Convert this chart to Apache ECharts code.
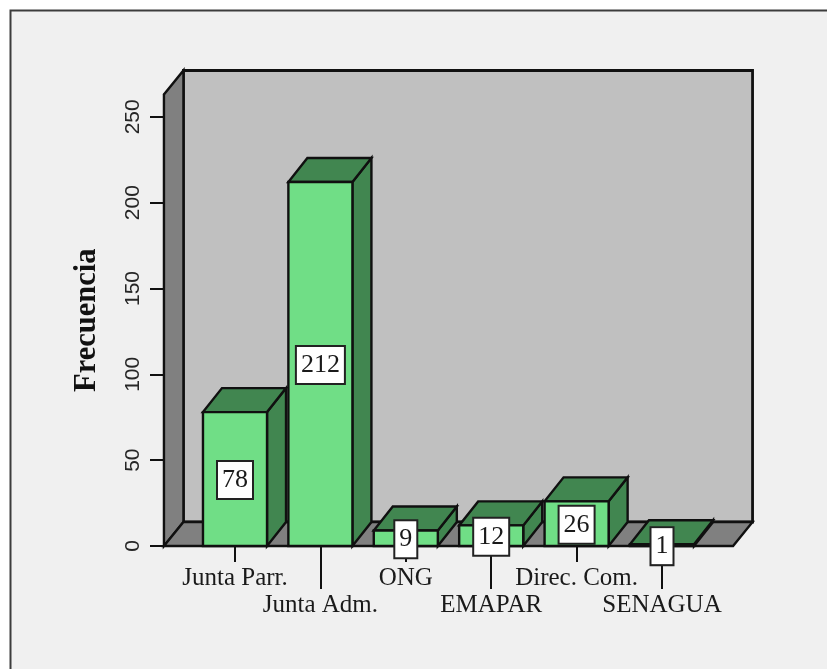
<!DOCTYPE html>
<html>
<head>
<meta charset="utf-8">
<style>html,body{margin:0;padding:0;background:#fff}#c{width:827px;height:669px}</style>
<script src="https://cdn.jsdelivr.net/npm/echarts@6/dist/echarts.min.js"></script>
</head>
<body>
<div id="c"></div>
<script>
// Frequency of each institution, shown as extruded columns inside a box
const categories = ['Junta Parr.', 'Junta Adm.', 'ONG', 'EMAPAR', 'Direc. Com.', 'SENAGUA'];
const frequencies = [78, 212, 9, 12, 26, 1];
const yTicks = [0, 50, 100, 150, 200, 250];
const yMax = 263;

const DEPTH_X = 19, DEPTH_Y = 24;
const INK = '#101010';
const FRONT = '#70DE86', SHADE = '#418650';
const WALL = '#C0C0C0', SIDE = '#808080';

const chart = echarts.init(document.getElementById('c'), null, {renderer: 'canvas'});

function poly(points, fill, width) {
  return {type: 'polygon', shape: {points}, style: {fill, stroke: INK, lineWidth: width, lineJoin: 'miter'}};
}

// Back wall, side wall and floor of the box, extended 71px past the outer column centres
function renderBox(params, api) {
  const step = api.size([1, 0])[0];
  const l = api.coord([0, 0])[0] - step * 0.832;
  const r = api.coord([5, 0])[0] + step * 0.832;
  const b = api.coord([0, 0])[1];
  const t = api.coord([0, yMax])[1];
  const dx = DEPTH_X + 0.5, dy = DEPTH_Y;
  return {type: 'group', children: [
    poly([[l + dx, t - dy], [r + dx, t - dy], [r + dx, b - dy], [l + dx, b - dy]], WALL, 2.8),
    poly([[l, b], [l + dx, b - dy], [l + dx, t - dy], [l, t]], SIDE, 2.4),
    poly([[l, b], [r, b], [r + dx, b - dy], [l + dx, b - dy]], SIDE, 2.4)
  ]};
}

function renderColumn(params, api) {
  const i = api.value(0), v = api.value(1);
  const w = api.size([1, 0])[0] * 0.75;
  const [cx, top] = api.coord([i, v]);
  const base = api.coord([i, 0])[1];
  const l = cx - w / 2, r = cx + w / 2;
  const dx = DEPTH_X, dy = DEPTH_Y;
  return {type: 'group', children: [
    poly([[r, base], [r + dx, base - dy], [r + dx, top - dy], [r, top]], SHADE, 2.4),
    poly([[l, top], [r, top], [r + dx, top - dy], [l + dx, top - dy]], SHADE, 2.4),
    poly([[l, top], [r, top], [r, base], [l, base]], FRONT, 2.4),
    {
      type: 'text',
      z2: 10,
      style: {
        text: String(v), x: cx, y: (top + base) / 2 + 1,
        align: 'center', verticalAlign: 'middle',
        font: '26px "Liberation Serif", serif', fill: '#1a1a1a',
        backgroundColor: '#fff', borderColor: '#222', borderWidth: 2,
        padding: [6, 4, 4, 4]
      }
    }
  ]};
}

const everyOther = rem => i => i % 2 === rem;
function categoryAxis(rem, tickLen, margin) {
  return {
    type: 'category',
    data: categories,
    position: 'bottom',
    axisLine: {show: false, onZero: false},
    axisTick: {show: true, alignWithLabel: true, length: tickLen, interval: everyOther(rem),
               lineStyle: {color: INK, width: 2}},
    axisLabel: {show: true, interval: everyOther(rem), margin, hideOverlap: false,
                color: '#1a1a1a', fontFamily: '"Liberation Serif", serif', fontSize: 25}
  };
}

chart.setOption({
  animation: false,
  backgroundColor: '#fff',
  graphic: [{
    type: 'rect', z: -10, silent: true,
    shape: {x: 10.5, y: 10.5, width: 840, height: 680},
    style: {fill: '#F0F0F0', stroke: '#3c3c3c', lineWidth: 2}
  }],
  grid: {left: 192.3, width: 512.4, top: 94.5, height: 451.5},
  xAxis: [categoryAxis(0, 16, 20), categoryAxis(1, 43, 47)],
  yAxis: {
    type: 'value', min: 0, max: yMax, offset: 28.3,
    splitLine: {show: false},
    axisLine: {show: true, lineStyle: {color: INK, width: 2}},
    axisTick: {show: true, length: 14, customValues: yTicks, lineStyle: {color: INK, width: 2}},
    axisLabel: {rotate: 90, margin: 20, customValues: yTicks, color: '#262626',
                fontFamily: '"Liberation Sans", sans-serif', fontSize: 21},
    name: 'Frecuencia', nameLocation: 'middle', nameGap: 61, nameRotate: 90,
    nameTextStyle: {color: '#111', fontFamily: '"Liberation Serif", serif', fontWeight: 'bold', fontSize: 30.5}
  },
  series: [
    {type: 'custom', clip: false, z: 1, silent: true, renderItem: renderBox, data: [[0, 0]], encode: {x: 0, y: 1}},
    {type: 'custom', clip: false, z: 2, silent: true, renderItem: renderColumn,
     data: frequencies.map((v, i) => [i, v]), encode: {x: 0, y: 1}}
  ]
});
</script>
</body>
</html>
